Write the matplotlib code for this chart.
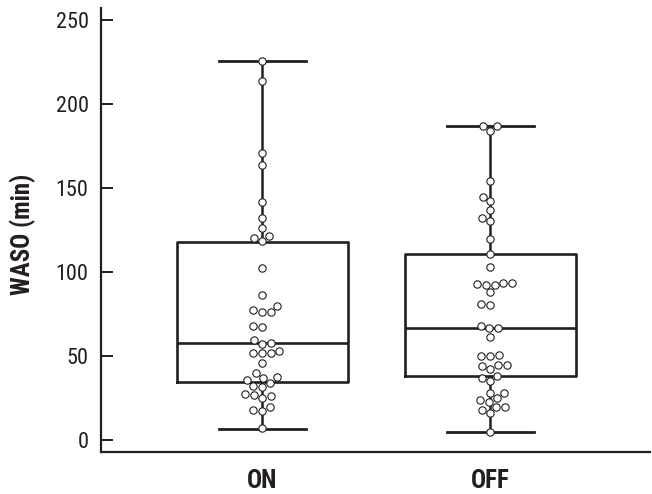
import matplotlib
matplotlib.use("Agg")
import matplotlib.pyplot as plt
from matplotlib import font_manager
import seaborn as sns

# valores (WASO em minutos)
grupos = ["ON", "OFF"]
waso_on = [225.2, 213.3, 171.0, 163.3, 141.7, 132.3, 126.0, 121.4, 120.0, 118.5,
           102.2, 86.1, 79.8, 77.2, 76.2, 76.2, 68.0, 67.5, 59.5, 57.5, 57.1,
           53.2, 51.6, 51.6, 51.6, 45.6, 39.7, 37.3, 36.7, 35.7, 33.7, 32.3,
           31.7, 27.4, 26.8, 26.2, 25.2, 19.8, 17.9, 17.4, 6.9]
waso_off = [186.9, 186.9, 183.9, 153.8, 144.8, 142.4, 136.9, 132.0, 130.4, 119.4,
            110.7, 102.7, 93.6, 93.6, 92.9, 92.3, 92.3, 87.9, 81.0, 80.4, 67.9,
            66.5, 66.5, 61.5, 50.6, 50.0, 50.0, 44.6, 44.6, 44.2, 42.3, 38.3,
            36.7, 35.1, 27.8, 27.8, 24.8, 23.8, 22.8, 19.8, 19.8, 17.9, 15.9, 4.6]

# estatisticas das caixas (q1, mediana, q3, minimo, maximo)
q1 = [34.3, 38.3]
medianas = [57.5, 66.9]
q3 = [117.7, 110.7]
minimos = [6.5, 4.6]
maximos = [225.2, 187.0]

# procura uma fonte estreita (tipo Helvetica Narrow) com negrito estatico
candidatas = ["Nimbus Sans Narrow", "Liberation Sans Narrow", "Arial Narrow",
              "Roboto Condensed", "IBM Plex Sans Condensed", "Open Sans Condensed",
              "Fira Sans Condensed"]
fonte = None
for c in candidatas:
    pesos = [f.weight for f in font_manager.fontManager.ttflist
             if f.name == c and "[" not in f.fname and f.style == "normal"]
    if 400 in pesos and 700 in pesos or ("regular" in pesos and "bold" in pesos):
        fonte = c
        break
if fonte is None:
    fonte = "DejaVu Sans"
    plt.rcParams['font.stretch'] = 'condensed'
plt.rcParams['font.family'] = [fonte, 'DejaVu Sans']

cor = "#231f20"

fig = plt.figure(figsize=(6.52, 4.94), dpi=100)
ax = fig.add_axes([0.155, 0.085, 0.842, 0.899])

stats = []
for i in range(len(grupos)):
    stats.append({"med": medianas[i], "q1": q1[i], "q3": q3[i],
                  "whislo": minimos[i], "whishi": maximos[i], "fliers": []})

ax.bxp(stats, positions=[0, 1], widths=0.75, capwidths=0.38, showfliers=False,
       boxprops=dict(color=cor, linewidth=1.9),
       medianprops=dict(color=cor, linewidth=1.9),
       whiskerprops=dict(color=cor, linewidth=1.8),
       capprops=dict(color=cor, linewidth=2.0))

xs = ["ON"] * len(waso_on) + ["OFF"] * len(waso_off)
ys = waso_on + waso_off
sns.swarmplot(x=xs, y=ys, order=grupos, ax=ax, color="white", edgecolor=cor,
              linewidth=0.8, size=5.3, zorder=3)

ax.set_xlim(-0.706, 1.70)
ax.set_ylim(-7.1, 257)
ax.set_xticks([0, 1])
ax.set_xticklabels(grupos, fontsize=18, fontweight="bold")
ax.set_yticks([0, 50, 100, 150, 200, 250])
ax.set_yticklabels(["0", "50", "100", "150", "200", "250"], fontsize=16)
ax.tick_params(axis="y", direction="in", length=8.6, width=1.4, pad=9, colors=cor)
ax.tick_params(axis="x", length=0, pad=12, colors=cor)
ax.set_ylabel("WASO (min)", fontsize=18, fontweight="bold", color=cor)
ax.yaxis.set_label_coords(-0.118, 0.49)
ax.set_xlabel("")

for lado in ["top", "right"]:
    ax.spines[lado].set_visible(False)
for lado in ["left", "bottom"]:
    ax.spines[lado].set_linewidth(1.6)
    ax.spines[lado].set_color(cor)

fig.savefig("out.png", dpi=100)
